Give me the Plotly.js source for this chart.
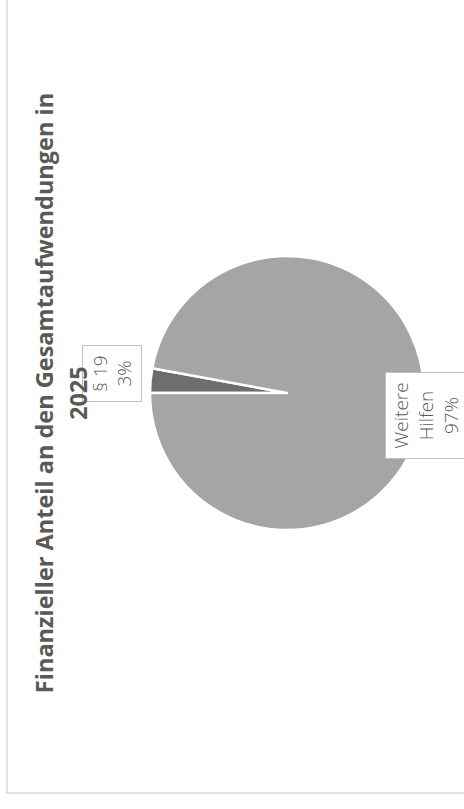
<!DOCTYPE html>
<html>
<head>
<meta charset="utf-8">
<script src="https://cdn.plot.ly/plotly-3.0.1.min.js"></script>
<style>
  html, body { margin: 0; padding: 0; background: #ffffff; overflow: hidden; }
  #wrap { position: absolute; left: 0; top: 0; width: 464px; height: 809px; overflow: hidden; }
  #chart {
    position: absolute; left: 0; top: 0; width: 809px; height: 464px;
    transform-origin: 0 0;
    transform: translate(0px, 809px) rotate(-90deg);
  }
</style>
</head>
<body>
<div id="wrap"><div id="chart"></div></div>
<script>
// ---- data ----
const categories = ['§ 19', 'Weitere Hilfen'];
const labelLines = ['§ 19', 'Weitere<br>Hilfen'];
const values = [2.9, 97.1];
const sliceColors = ['#6e6e6e', '#a5a5a5'];
const titleLines = ['Finanzieller Anteil an den Gesamtaufwendungen in', '2025'];

// ---- geometry of the (unrotated) chart ----
const W = 809, H = 464;
const cx = 416, cy = 287, r = 137;
const domX = [(cx - r) / W, (cx + r) / W];
const domY = [1 - (cy + r) / H, 1 - (cy - r) / H];

const total = values.reduce((a, b) => a + b, 0);
const distFactor = [1.28, 1.02];
const boxW = [49, 79];
const boxH = [52, 74];
const shiftX = [4, -10];
let cum = 0;
const titleFont = { family: 'Open Sans', size: 23.5, color: '#595959', weight: 'bold' };
const annotations = values.map((v, i) => {
  const mid = (cum + v / 2) / total * 2 * Math.PI;
  cum += v;
  const px = cx + distFactor[i] * r * Math.sin(mid) + shiftX[i];
  const py = cy - distFactor[i] * r * Math.cos(mid);
  return {
    x: px / W, y: 1 - py / H, xref: 'paper', yref: 'paper',
    xanchor: 'center', yanchor: 'middle',
    text: labelLines[i] + '<br>' + Math.round(v / total * 100) + '%',
    showarrow: false,
    bgcolor: '#ffffff', bordercolor: '#bfbfbf', borderwidth: 1, borderpad: 3,
    width: boxW[i], height: boxH[i],
    font: { family: 'Open Sans', size: 19, color: '#595959', weight: 300 }
  };
});
annotations.push({
  x: cx / W, y: 1 - 78 / H, xref: 'paper', yref: 'paper',
  xanchor: 'center', yanchor: 'middle', showarrow: false,
  text: titleLines[1], font: titleFont
});

const trace = {
  type: 'pie',
  labels: categories,
  values: values,
  sort: false,
  direction: 'clockwise',
  rotation: 0,
  textinfo: 'none',
  hoverinfo: 'none',
  marker: { colors: sliceColors, line: { color: '#ffffff', width: 2.5 } },
  domain: { x: domX, y: domY },
  showlegend: false
};

const layout = {
  width: W, height: H,
  margin: { l: 0, r: 0, t: 0, b: 0 },
  paper_bgcolor: '#ffffff',
  showlegend: false,
  title: {
    text: titleLines[0],
    x: cx / W, xanchor: 'center',
    y: 1 - 45 / H, yanchor: 'middle',
    font: titleFont
  },
  shapes: [{
    type: 'rect', xref: 'paper', yref: 'paper',
    x0: 16 / W, x1: 1.2, y0: -0.2, y1: 1 - 7 / H,
    line: { color: '#d9d9d9', width: 1.5 }, fillcolor: 'rgba(0,0,0,0)'
  }],
  annotations: annotations
};

Plotly.newPlot('chart', [trace], layout, { displayModeBar: false, staticPlot: true });
</script>
</body>
</html>
